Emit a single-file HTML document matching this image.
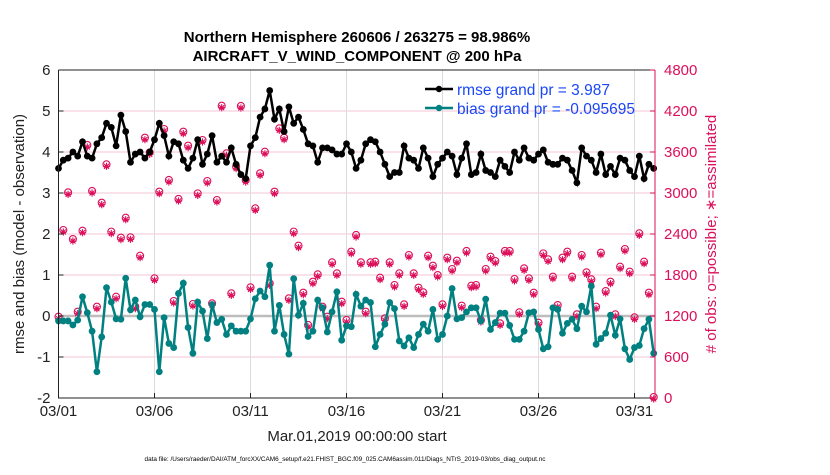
<!DOCTYPE html>
<html><head><meta charset="utf-8"><style>
body{margin:0;background:#fff;}
svg text{font-family:"Liberation Sans",Arial,sans-serif;}
</style></head><body>
<svg id="chart" width="830" height="470" xmlns="http://www.w3.org/2000/svg">
<g id="grid"></g>
<g id="series"></g>
<g id="axes"></g>
</svg>
<script>
const tickDays=[0,5,10,15,20,25,30];
const tickLabels=["03/01","03/06","03/11","03/16","03/21","03/26","03/31"];
const leftTicks=[-2,-1,0,1,2,3,4,5,6];
const rightTicks=[0,600,1200,1800,2400,3000,3600,4200,4800];
const rmse=[3.6,3.8,3.85,4.0,3.9,4.25,3.9,3.85,4.2,4.35,4.7,4.6,4.15,4.9,4.5,3.75,3.95,4.0,3.85,4.0,4.3,4.7,4.4,3.9,4.25,4.2,3.8,3.6,3.85,4.3,3.7,3.95,4.4,3.75,
3.9,3.75,4.1,3.7,3.45,3.35,4.15,4.35,4.85,5.05,5.5,4.8,5.05,4.5,5.1,4.7,4.85,4.55,4.2,4.15,3.75,4.1,4.1,4.05,3.95,3.95,4.2,4.0,3.6,3.8,4.2,
4.3,4.25,4.0,3.7,3.4,3.5,3.5,4.15,3.85,3.8,3.6,4.1,3.85,3.4,3.7,3.85,4.0,3.9,3.45,3.85,4.2,3.45,3.5,3.95,3.55,3.5,3.4,3.8,3.65,3.5,4.0,
3.8,4.1,3.85,3.8,3.95,4.05,3.75,3.7,3.7,3.85,3.8,3.55,3.25,4.1,3.9,3.8,3.5,3.95,3.45,3.65,3.45,3.85,3.8,3.55,3.4,3.9,3.35,3.7,3.6];
const bias=[-0.12,-0.12,-0.12,-0.22,-0.1,0.47,0.08,-0.37,-1.36,-0.51,0.69,0.34,-0.07,-0.08,0.92,0.15,0.39,-0.02,0.28,0.28,0.16,-1.36,-0.04,-0.67,-0.77,0.55,0.8,-0.28,-0.91,0.34,0.12,-0.55,0.28,-0.16,
-0.08,-0.45,-0.24,-0.37,-0.37,-0.37,-0.07,0.42,0.61,0.47,1.24,-0.37,0.26,-0.45,-0.93,0.91,0.02,0.31,-0.5,-0.37,0.39,0.2,-0.39,0.1,0.59,-0.59,-0.24,-0.26,0.53,0.24,0.39,
0.33,-0.75,-0.45,-0.2,0.33,0.18,-0.61,-0.73,-0.53,-0.77,-0.45,-0.2,-0.37,0.16,-0.57,-0.45,0,0.67,-0.07,-0.04,0.1,0.2,0.2,-0.12,0.41,-0.33,-0.16,0.07,0.07,-0.23,-0.57,
-0.57,-0.37,0.08,0.1,-0.33,-0.8,-0.75,0.2,0.16,-0.42,-0.18,-0.08,-0.31,0.24,0.1,0.73,-0.69,-0.55,-0.42,0.02,-0.47,-0.07,-0.8,-1.06,-0.77,-0.72,-0.31,-0.08,-0.91];
const obsCount=[1176,2444,2995,2312,1249,2434,3688,3015,1322,2844,3405,2420,1468,2332,2624,2337,1322,2068,3795,3580,1737,3005,3922,3176,1405,2898,3883,3678,1361,2980,3761,3161,1371,2883,
4263,3566,1517,3371,4259,3176,1605,2761,3273,3590,1663,3005,3932,3795,1444,2420,2215,1527,1054,1688,1795,1322,1176,1971,1810,1395,1127,2127,2371,1971,1249,
1971,1980,1746,1151,1971,1639,1810,1356,2078,1810,1600,1532,2068,1922,1785,1356,2039,1873,1995,1337,2137,1629,1639,1127,1873,2054,1990,1078,2137,2137,1727,
1239,1883,1737,1527,1088,2102,2015,1761,1346,2039,2127,1761,1210,2078,1824,1722,1322,2112,1551,1688,1210,1907,2166,1834,1166,2395,1980,1527,0];

const NS="http://www.w3.org/2000/svg";
const X0=58.5,X1=655,Y0=398,Y1=70,PXDAY=19.2;
const xs=d=>X0+d*PXDAY;
const yl=v=>Y0-(v+2)/8*(Y0-Y1);
const yr=c=>Y0-c/4800*(Y0-Y1);
function mk(tag,attrs,parent,text){const e=document.createElementNS(NS,tag);for(const k in attrs)e.setAttribute(k,attrs[k]);if(text!==undefined)e.textContent=text;parent.appendChild(e);return e;}
const grid=document.getElementById('grid'),ser=document.getElementById('series'),ax=document.getElementById('axes');
const PINK="#dc0f5a",TEAL="#008080";
rightTicks.forEach(c=>{const l=mk('line',{x1:X0,x2:X1,y1:yr(c),y2:yr(c),stroke:"#f3c6d6","stroke-width":1},grid);

});
tickDays.forEach(d=>{const l=mk('line',{x1:xs(d),x2:xs(d),y1:Y1,y2:Y0,stroke:"#dcdcdc","stroke-width":1},grid);

});
const z=mk('line',{x1:X0,x2:X1,y1:yl(0),y2:yl(0),stroke:"#bdbdbd","stroke-width":2.5},grid);


obsCount.forEach((c,i)=>{const x=xs(i*0.25),y=yr(c);
const g=mk('g',{},ser);


mk('circle',{cx:x,cy:y-1,r:3.5,fill:"none",stroke:PINK,"stroke-width":1.1},g);
const r=3.6,yy=y+1;
mk('path',{d:`M${x-r},${yy}H${x+r}M${x},${yy-r}V${yy+r}M${x-r*0.7},${yy-r*0.7}L${x+r*0.7},${yy+r*0.7}M${x-r*0.7},${yy+r*0.7}L${x+r*0.7},${yy-r*0.7}`,stroke:PINK,"stroke-width":1.1,fill:"none"},g);});
function line(vals,color,name){
const pts=vals.map((v,i)=>xs(i*0.25)+","+yl(v)).join(" ");
const p=mk('polyline',{points:pts,fill:"none",stroke:color,"stroke-width":2.5},ser);


vals.forEach((v,i)=>{const c=mk('circle',{cx:xs(i*0.25),cy:yl(v),r:3.4,fill:color},ser);

});}
line(bias,TEAL,'bias');
line(rmse,"#000",'rmse');
const fr=mk('path',{d:`M${X0},${Y1}H${X1}M${X0},${Y1}V${Y0}H${X1}`,stroke:"#222","stroke-width":1,fill:"none"},ax);


const ra=mk('line',{x1:X1,x2:X1,y1:Y1,y2:Y0,stroke:PINK,"stroke-width":1},ax);


leftTicks.forEach(v=>{const t=mk('text',{x:X0-8,y:yl(v)+5,"text-anchor":"end","font-size":"15",fill:"#222"},ax,String(v));


mk('line',{x1:X0,x2:X0+5,y1:yl(v),y2:yl(v),stroke:"#222"},ax);});
rightTicks.forEach(c=>{const t=mk('text',{x:X1+9,y:yr(c)+5,"font-size":"15",fill:PINK},ax,String(c));


mk('line',{x1:X1-5,x2:X1,y1:yr(c),y2:yr(c),stroke:PINK},ax);});
tickDays.forEach((d,i)=>{const t=mk('text',{x:xs(d),y:416,"text-anchor":"middle","font-size":"15",fill:"#222"},ax,tickLabels[i]);


mk('line',{x1:xs(d),x2:xs(d),y1:Y0,y2:Y0-5,stroke:"#222"},ax);});
</script>
<svg style="position:absolute;left:0;top:0" width="830" height="470" xmlns="http://www.w3.org/2000/svg">
<text x="357" y="42" text-anchor="middle" font-size="15" font-weight="bold" fill="#000">Northern Hemisphere 260606 / 263275 = 98.986%</text>
<text x="357" y="61" text-anchor="middle" font-size="15" font-weight="bold" fill="#000">AIRCRAFT_V_WIND_COMPONENT @ 200 hPa</text>
<text transform="translate(24,234) rotate(-90)" text-anchor="middle" font-size="15" fill="#222">rmse and bias (model - observation)</text>
<text transform="translate(716,234) rotate(-90)" text-anchor="middle" font-size="15" fill="#dc0f5a"># of obs: o=possible; ∗=assimilated</text>
<text x="357" y="441" text-anchor="middle" font-size="15" fill="#222">Mar.01,2019 00:00:00 start</text>
<text x="345" y="461" text-anchor="middle" font-size="6.4" fill="#000">data file: /Users/raeder/DAI/ATM_forcXX/CAM6_setup/f.e21.FHIST_BGC.f09_025.CAM6assim.011/Diags_NTrS_2019-03/obs_diag_output.nc</text>
<g>
<line x1="425" x2="453" y1="89" y2="89" stroke="#000" stroke-width="2.5"/><circle cx="439" cy="89" r="3.2" fill="#000"/>
<text x="457" y="95" font-size="15.5" fill="#1a47f5">rmse grand pr = 3.987</text></g>
<g>
<line x1="425" x2="453" y1="108" y2="108" stroke="#008080" stroke-width="2.5"/><circle cx="439" cy="108" r="3.2" fill="#008080"/>
<text x="457" y="114" font-size="15.5" fill="#1a47f5">bias grand pr = -0.095695</text></g>
</svg>
</body></html>
